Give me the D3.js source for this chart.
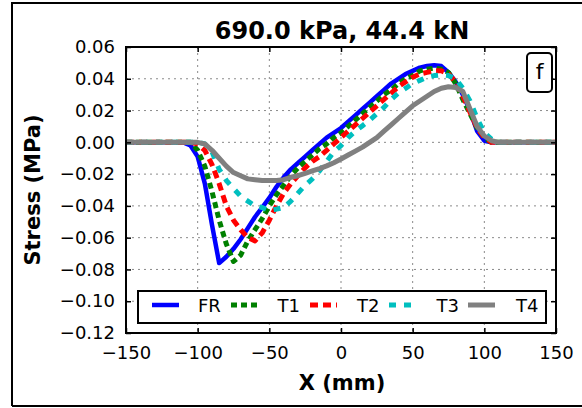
<!DOCTYPE html>
<html>
<head>
<meta charset="utf-8">
<script src="https://cdn.jsdelivr.net/npm/d3@7/dist/d3.min.js"></script>
<style>
  html, body { margin: 0; padding: 0; background: #fff; }
  svg { display: block; font-family: "DejaVu Sans", sans-serif; }
</style>
</head>
<body>
<svg id="chart" width="582" height="408"></svg>
<script>
// Position along the section (mm)
const xPos = [-150,-145,-140,-135,-130,-125,-120,-115,-110,-105,-100,-95,-90,-85,-80,-75,-70,-65,-60,-55,
  -50,-45,-40,-35,-30,-25,-20,-15,-10,-5,0,5,10,15,20,25,30,35,40,45,50,55,60,65,70,75,80,85,90,95,100,
  105,110,115,120,125,130,135,140,145,150];

// Stress (MPa) for each configuration
const FR = [0,0,0,0,0,0,0,0,0,
  -0.002,-0.009,-0.026,-0.052,-0.076,-0.072,-0.067,-0.061,-0.054,-0.047,-0.041,-0.035,-0.028,-0.022,-0.017,
  -0.013,-0.009,-0.005,-0.001,0.003,0.006,0.009,0.013,0.017,0.021,0.025,0.029,0.033,0.037,0.040,0.043,0.045,
  0.047,0.048,0.0485,0.048,0.044,0.038,0.030,0.020,0.007,0.001,0.000,
  0,0,0,0,0,0,0,0,0];
const T1 = [0,0,0,0,0,0,0,0,0,
  0.000,-0.005,-0.015,-0.031,-0.049,-0.064,-0.075,-0.071,-0.062,-0.055,-0.048,-0.040,-0.033,-0.027,-0.021,
  -0.016,-0.012,-0.008,-0.004,-0.001,0.003,0.006,0.010,0.014,0.018,0.022,0.026,0.030,0.033,0.037,0.040,0.042,
  0.045,0.046,0.0467,0.046,0.044,0.037,0.027,0.018,0.009,0.003,0.000,
  0,0,0,0,0,0,0,0,0];
const T2 = [0,0,0,0,0,0,0,0,0,
  0.000,-0.001,-0.005,-0.014,-0.026,-0.040,-0.049,-0.055,-0.060,-0.062,-0.057,-0.049,-0.040,-0.032,-0.026,
  -0.021,-0.016,-0.012,-0.009,-0.005,-0.001,0.003,0.007,0.011,0.015,0.019,0.023,0.027,0.031,0.035,0.038,0.041,
  0.043,0.044,0.045,0.045,0.043,0.038,0.029,0.019,0.009,0.003,0.000,
  0,0,0,0,0,0,0,0,0];
const T3 = [0,0,0,0,0,0,0,0,0,
  0.000,0.000,-0.001,-0.006,-0.017,-0.024,-0.029,-0.034,-0.037,-0.040,-0.041,-0.043,-0.042,-0.041,-0.037,
  -0.032,-0.027,-0.023,-0.018,-0.012,-0.006,-0.002,0.003,0.007,0.0105,0.014,0.018,0.022,0.027,0.031,0.034,0.037,
  0.039,0.041,0.042,0.0425,0.042,0.040,0.034,0.026,0.015,0.006,0.002,
  0,0,0,0,0,0,0,0,0];
const T4 = [0,0,0,0,0,0,0,0,0,
  0.000,0.000,-0.001,-0.005,-0.010,-0.015,-0.019,-0.021,-0.023,-0.0235,-0.024,-0.024,-0.024,-0.0235,-0.022,
  -0.021,-0.0195,-0.018,-0.0165,-0.0148,-0.0128,-0.0105,-0.008,-0.0055,-0.003,0.000,0.003,0.007,0.011,0.015,0.019,0.023,
  0.026,0.029,0.032,0.034,0.035,0.0345,0.032,0.021,0.010,0.004,0.001,
  0,0,0,0,0,0,0,0,0];

const seriesNames = ["FR", "T1", "T2", "T3", "T4"];
const seriesValues = [FR, T1, T2, T3, T4];

const xTicks = [-150, -100, -50, 0, 50, 100, 150];
const yTicks = [-0.12, -0.10, -0.08, -0.06, -0.04, -0.02, 0.00, 0.02, 0.04, 0.06];

const titleText = "690.0 kPa, 44.4 kN";
const xLabel = "X (mm)";
const yLabel = "Stress (MPa)";
const panelTag = "f";

// Line styling per series
const styles = [
  { color: "#0000ff", width: 4.5, dash: null },
  { color: "#008000", width: 5, dash: "6,4" },
  { color: "#ff0000", width: 5, dash: "8,5" },
  { color: "#00bfbf", width: 5, dash: "7,8" },
  { color: "#808080", width: 5, dash: null }
];

(function draw() {
  const svg = d3.select("#chart");

  // Figure border
  svg.append("path")
    .attr("d", "M12,406 L12,3 L600,3 M12,406 L600,406")
    .attr("fill", "none").attr("stroke", "#000").attr("stroke-width", 2);

  const pL = 126, pR = 556, pT = 47, pB = 333;
  const x = d3.scaleLinear().domain([-150, 150]).range([pL, pR]);
  const y = d3.scaleLinear().domain([-0.12, 0.06]).range([pB, pT]);

  // Dotted grid
  const grid = svg.append("g").attr("stroke", "#8a8a8a").attr("stroke-width", 1)
    .attr("stroke-dasharray", "2,4");
  grid.selectAll("line.gx").data(xTicks.slice(1, -1)).join("line").attr("class", "gx")
    .attr("x1", d => x(d)).attr("x2", d => x(d)).attr("y1", pT).attr("y2", pB);
  grid.selectAll("line.gy").data(yTicks.slice(1, -1)).join("line").attr("class", "gy")
    .attr("y1", d => y(d)).attr("y2", d => y(d)).attr("x1", pL).attr("x2", pR);

  // Curves
  const line = d3.line().x((d, i) => x(xPos[i])).y(d => y(d));
  const plot = svg.append("g");
  seriesValues.forEach((vals, k) => {
    const s = styles[k];
    plot.append("path")
      .datum(vals)
      .attr("d", line)
      .attr("fill", "none")
      .attr("stroke", s.color)
      .attr("stroke-width", s.width)
      .attr("stroke-linejoin", "round")
      .attr("stroke-dasharray", s.dash);
  });

  // Axes with inward ticks
  const fmtY = d3.format(".2f");
  const axB = svg.append("g").attr("transform", `translate(0,${pB})`)
    .call(d3.axisBottom(x).tickValues(xTicks).tickSize(-5).tickSizeOuter(0).tickPadding(13).tickFormat(d3.format("d")));
  const axL = svg.append("g").attr("transform", `translate(${pL},0)`)
    .call(d3.axisLeft(y).tickValues(yTicks).tickSize(-5).tickSizeOuter(0).tickPadding(11).tickFormat(fmtY));
  const axT = svg.append("g").attr("transform", `translate(0,${pT})`)
    .call(d3.axisTop(x).tickValues(xTicks).tickSize(-5).tickSizeOuter(0).tickFormat(""));
  const axR = svg.append("g").attr("transform", `translate(${pR},0)`)
    .call(d3.axisRight(y).tickValues(yTicks).tickSize(-5).tickSizeOuter(0).tickFormat(""));
  [axB, axL, axT, axR].forEach(a => {
    a.select(".domain").remove();
    a.selectAll(".tick line").attr("stroke", "#000").attr("stroke-width", 1.5);
    a.selectAll(".tick text").attr("fill", "#000").style("font-size", "18px")
      .style("font-family", "'DejaVu Sans', sans-serif");
  });

  // Axes frame
  svg.append("rect").attr("x", pL).attr("y", pT)
    .attr("width", pR - pL).attr("height", pB - pT)
    .attr("fill", "none").attr("stroke", "#000").attr("stroke-width", 2);

  // Title and axis labels
  svg.append("text").attr("x", 342).attr("y", 39).attr("text-anchor", "middle")
    .style("font-size", "24px").style("font-weight", "bold").text(titleText);
  svg.append("text").attr("x", 342).attr("y", 390).attr("text-anchor", "middle")
    .style("font-size", "21px").style("font-weight", "bold").text(xLabel);
  svg.append("text").attr("transform", "translate(40,190) rotate(-90)").attr("text-anchor", "middle")
    .style("font-size", "21px").style("font-weight", "bold").text(yLabel);

  // Panel tag
  svg.append("rect").attr("x", 527).attr("y", 53).attr("width", 25).attr("height", 39).attr("rx", 4)
    .attr("fill", "#fff").attr("stroke", "#000").attr("stroke-width", 2);
  svg.append("text").attr("x", 539.5).attr("y", 79).attr("text-anchor", "middle")
    .style("font-size", "22px").text(panelTag);

  // Legend
  const lg = svg.append("g");
  lg.append("rect").attr("x", 138).attr("y", 291).attr("width", 408).attr("height", 32)
    .attr("fill", "#fff").attr("stroke", "#000").attr("stroke-width", 2);
  seriesNames.forEach((name, k) => {
    const s = styles[k];
    const hx = 152 + k * 79;
    lg.append("line").attr("x1", hx).attr("x2", hx + 27).attr("y1", 305).attr("y2", 305)
      .attr("stroke", s.color).attr("stroke-width", s.width).attr("stroke-dasharray", s.dash);
    lg.append("text").attr("x", 198 + k * 79.5).attr("y", 312).style("font-size", "18px").text(name);
  });
})();
</script>
</body>
</html>
